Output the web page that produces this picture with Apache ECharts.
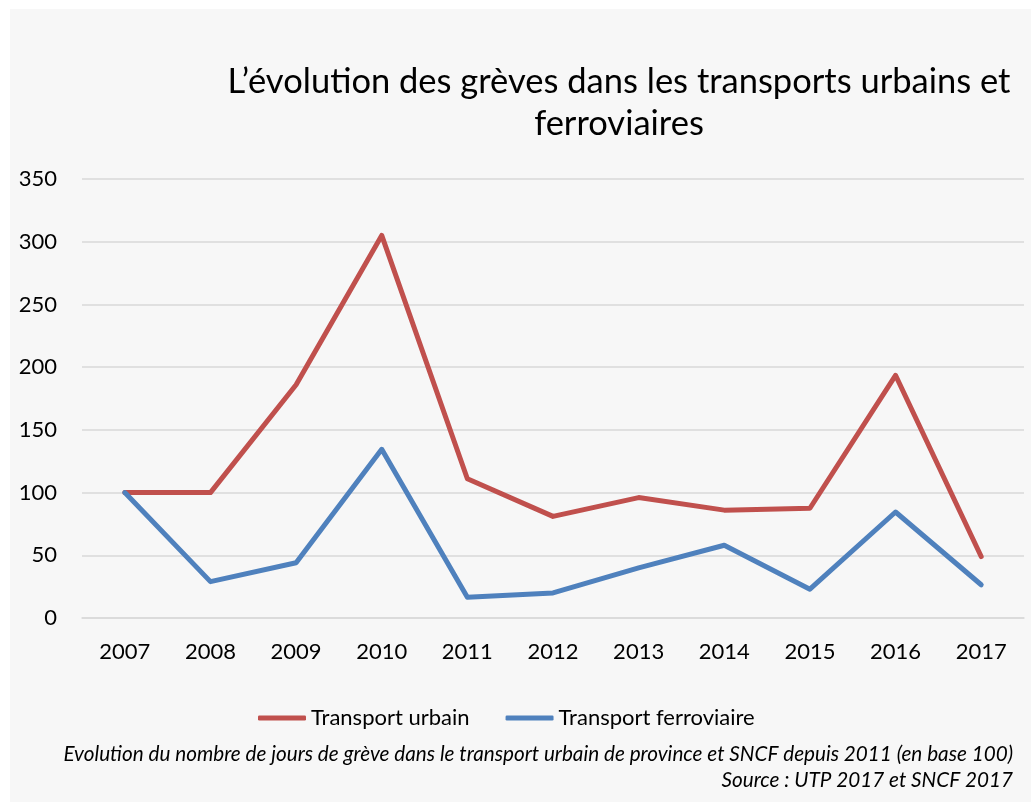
<!DOCTYPE html>
<html lang="fr">
<head>
<meta charset="UTF-8">
<title>Evolution des grèves</title>
<script src="https://cdn.jsdelivr.net/npm/echarts@6/dist/echarts.min.js"></script>
<style>
  html, body { margin: 0; padding: 0; background: #fff; }
  #chart { width: 1031px; height: 802px; }
</style>
</head>
<body>
<div id="chart"></div>
<script>
// données (base 100)
var years = ['2007', '2008', '2009', '2010', '2011', '2012', '2013', '2014', '2015', '2016', '2017'];
var urbain = [100, 100, 186, 305, 111, 81, 96, 86, 87.5, 193.5, 49];
var ferroviaire = [100, 29, 44, 134.5, 16.5, 20, 40, 58, 23, 84.5, 26.5];
var seriesNames = ['Transport urbain', 'Transport ferroviaire'];
var colors = ['#c0504d', '#4f81bd'];

var myChart = echarts.init(document.getElementById('chart'));
var font = 'Lato';

var option = {
  backgroundColor: '#ffffff',
  color: colors,
  textStyle: { fontFamily: font },
  title: {
    text: 'L\u2019évolution des grèves dans les transports urbains et\nferroviaires',
    left: 614,
    top: 56,
    textAlign: 'center',
    textStyle: { fontFamily: font, fontSize: 34.5, fontWeight: 'normal', color: '#000', lineHeight: 42 }
  },
  graphic: [
    { type: 'rect', z: -10, silent: true, shape: { x: 10, y: 9, width: 1021, height: 793 }, style: { fill: '#f7f7f7' } },
    { type: 'text', x: 1013, y: 754, style: {
        text: 'Evolution du nombre de jours de grève dans le transport urbain de province et SNCF depuis 2011 (en base 100)',
        align: 'right', verticalAlign: 'middle', font: 'italic 20.7px Lato', fill: '#000'
    } },
    { type: 'text', x: 1013, y: 780, style: {
        text: 'Source : UTP 2017 et SNCF 2017',
        align: 'right', verticalAlign: 'middle', font: 'italic 20.7px Lato', fill: '#000'
    } }
  ],
  legend: {
    top: 702,
    left: 253,
    icon: 'roundRect',
    itemWidth: 48,
    itemHeight: 5,
    itemGap: 36,
    textStyle: { fontFamily: font, fontSize: 22, color: '#000' },
    data: seriesNames
  },
  grid: { left: 82, right: 7, top: 179, bottom: 184 },
  xAxis: {
    type: 'category',
    data: years,
    boundaryGap: true,
    axisLine: { lineStyle: { color: '#d9d9d9', width: 1.5 } },
    axisTick: { show: false },
    axisLabel: { fontFamily: font, fontSize: 22, color: '#000', margin: 23 }
  },
  yAxis: {
    type: 'value',
    min: 0, max: 350, interval: 50,
    axisLine: { show: false },
    axisTick: { show: false },
    splitLine: { lineStyle: { color: '#d9d9d9', width: 1.5 } },
    axisLabel: { fontFamily: font, fontSize: 22, color: '#000', margin: 25 }
  },
  series: [
    { name: seriesNames[0], type: 'line', data: urbain, symbol: 'none',
      lineStyle: { width: 5, cap: 'round', join: 'round' } },
    { name: seriesNames[1], type: 'line', data: ferroviaire, symbol: 'none',
      lineStyle: { width: 5, cap: 'round', join: 'round' } }
  ]
};
myChart.setOption(option);
</script>
</body>
</html>
